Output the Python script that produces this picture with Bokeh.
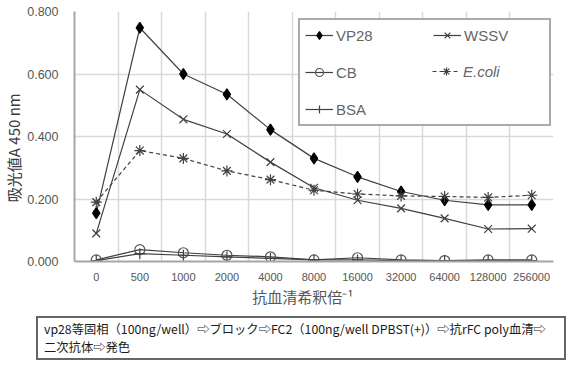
from bokeh.plotting import figure
from bokeh.layouts import column
from bokeh.models import (Range1d, FixedTicker, NumeralTickFormatter, Legend, LegendItem, Div)
from bokeh.embed import file_html
from bokeh.resources import INLINE

dilutions = ["0", "500", "1000", "2000", "4000", "8000", "16000", "32000", "64000", "128000", "256000"]
vp28 = [0.155, 0.748, 0.600, 0.535, 0.422, 0.330, 0.271, 0.224, 0.196, 0.181, 0.181]
wssv = [0.090, 0.550, 0.455, 0.408, 0.318, 0.236, 0.196, 0.170, 0.138, 0.104, 0.105]
cb = [0.005, 0.038, 0.028, 0.020, 0.015, 0.005, 0.012, 0.005, 0.003, 0.005, 0.005]
ecoli = [0.190, 0.355, 0.330, 0.290, 0.262, 0.228, 0.216, 0.210, 0.208, 0.205, 0.212]
bsa = [0.003, 0.025, 0.020, 0.015, 0.010, 0.005, 0.005, 0.003, 0.003, 0.003, 0.003]
y_ticks = [0.0, 0.2, 0.4, 0.6, 0.8]
note_line1 = "vp28等固相（100ng/well）⇨ブロック⇨FC2（100ng/well DPBST(+)）⇨抗rFC poly血清⇨"
note_line2 = "二次抗体⇨発色"

xs = [i + 0.5 for i in range(len(dilutions))]

JP = "Noto Sans CJK JP"
LAT = "Liberation Sans"

p = figure(width=566, height=311, output_backend="svg", toolbar_location=None,
           x_range=Range1d(0, len(dilutions)), y_range=Range1d(0, 0.8),
           min_border_left=72, min_border_right=13, min_border_top=11, min_border_bottom=50)
p.outline_line_color = None
p.background_fill_color = "white"

# axes
p.xaxis.ticker = FixedTicker(ticks=xs)
p.xaxis.major_label_overrides = {x: d for x, d in zip(xs, dilutions)}
p.xaxis.major_tick_line_color = None
p.xaxis.minor_tick_line_color = None
p.xaxis.axis_line_color = "#a6a6a6"
p.xaxis.axis_line_width = 2
p.xaxis.major_label_text_font = LAT
p.xaxis.major_label_text_font_size = "11px"
p.xaxis.major_label_text_color = "#555555"
p.xaxis.major_label_standoff = 5
p.xaxis.axis_label = "抗血清希釈倍⁻¹\u2003\u2002"
p.xaxis.axis_label_text_font = JP
p.xaxis.axis_label_text_font_style = "normal"
p.xaxis.axis_label_text_font_size = "15px"
p.xaxis.axis_label_text_color = "#555555"
p.xaxis.axis_label_standoff = 2

p.yaxis.ticker = FixedTicker(ticks=y_ticks)
p.yaxis.formatter = NumeralTickFormatter(format="0.000")
p.yaxis.major_tick_line_color = None
p.yaxis.minor_tick_line_color = None
p.yaxis.axis_line_color = "#a6a6a6"
p.yaxis.axis_line_width = 2
p.yaxis.major_label_text_font = LAT
p.yaxis.major_label_text_font_size = "12.5px"
p.yaxis.major_label_text_color = "#555555"
p.yaxis.major_label_standoff = 10
p.yaxis.axis_label = "吸光値A 450 nm\u2003\u2002"
p.yaxis.axis_label_text_font = JP
p.yaxis.axis_label_text_font_style = "normal"
p.yaxis.axis_label_text_font_size = "15px"
p.yaxis.axis_label_text_color = "#3a3a3a"
p.yaxis.axis_label_standoff = 0

p.xgrid.ticker = FixedTicker(ticks=list(range(1, len(dilutions) + 1)))
p.xgrid.grid_line_color = "#d9d9d9"
p.xgrid.grid_line_width = 1.5
p.ygrid.ticker = FixedTicker(ticks=y_ticks[1:])
p.ygrid.grid_line_color = "#d9d9d9"
p.ygrid.grid_line_width = 1.5

LC = "#404040"
series = [
    ("VP28", vp28, "diamond", dict(fill_color="black", line_color="black"), 11, "solid"),
    ("WSSV", wssv, "x", dict(fill_color=None, line_color=LC), 11, "solid"),
    ("CB", cb, "circle", dict(fill_color=None, line_color="#555555"), 10, "solid"),
    ("E.coli", ecoli, "asterisk", dict(fill_color=None, line_color=LC), 11, "4 3"),
    ("BSA", bsa, "cross", dict(fill_color=None, line_color=LC), 11, "solid"),
]
items = {}
for name, ys, mk, mstyle, sz, dash in series:
    l = p.line(xs, ys, line_color=LC, line_width=1.2, line_dash=dash)
    m = p.scatter(xs, ys, marker=mk, size=sz, line_width=1.2, **mstyle)
    items[name] = [l, m]

blank = p.line([0.5], [0.0], line_alpha=0)

common = dict(glyph_width=28, glyph_height=20, label_height=20, label_width=80,
              label_standoff=3, spacing=17, padding=5,
              label_text_font=LAT, label_text_font_size="15px", label_text_color="#666666")

legend = Legend(items=[LegendItem(label="VP28", renderers=items["VP28"]),
                       LegendItem(label="CB", renderers=items["CB"]),
                       LegendItem(label="BSA", renderers=items["BSA"]),
                       LegendItem(label="WSSV", renderers=items["WSSV"]),
                       LegendItem(label=" ", renderers=[blank])],
                ncols=2, location=(224, 135),
                border_line_color="#555555", border_line_width=2,
                background_fill_color="white", background_fill_alpha=1,
                **common)
p.add_layout(legend, "center")

legend2 = Legend(items=[LegendItem(label="E.coli", renderers=items["E.coli"])],
                 location=(358, 180), border_line_color=None, background_fill_alpha=0,
                 label_text_font_style="italic", **common)
p.add_layout(legend2, "center")

# note box below the chart
note_html = (
    '<div style="border:2px solid #666666;box-sizing:border-box;width:530px;height:44px;'
    'padding:2px 6px;font-family:\'Noto Sans CJK JP\';font-size:12.3px;line-height:18px;'
    'color:#1a1a1a;white-space:nowrap;overflow:hidden;background:white">'
    f'{note_line1}<br>{note_line2}</div>'
)
n = Div(text=note_html, width=530, height=44, margin=(5, 0, 0, 36))

layout = column(p, n, spacing=0)
open("out.html", "w").write(file_html(layout, INLINE))
